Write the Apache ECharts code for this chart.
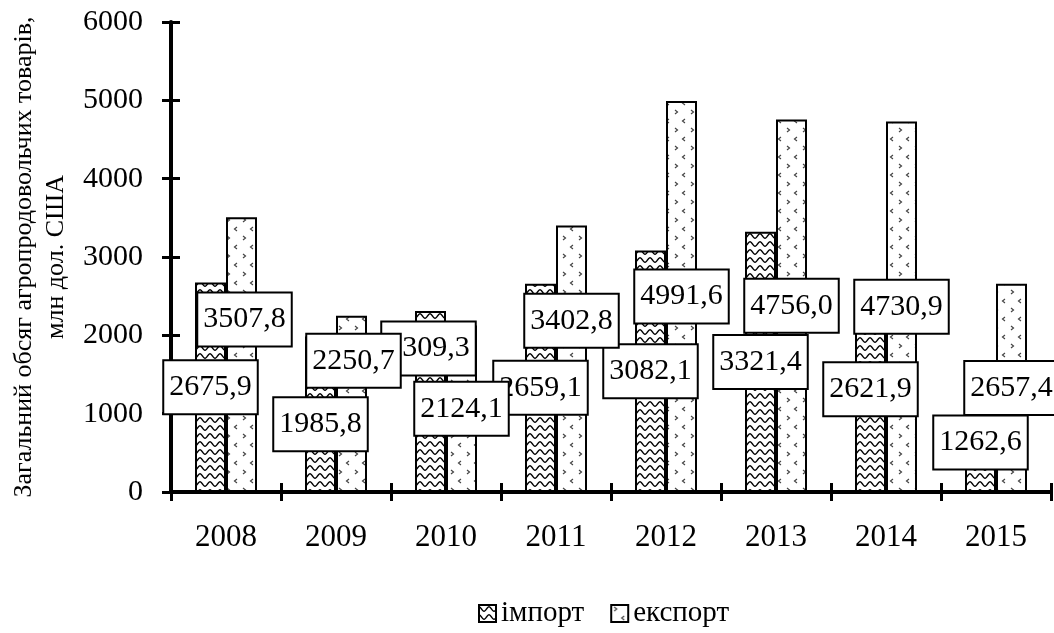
<!DOCTYPE html>
<html><head><meta charset="utf-8">
<script src="https://cdn.jsdelivr.net/npm/echarts@6/dist/echarts.min.js"></script>
<style>html,body{margin:0;padding:0;background:#fff}#c{width:1054px;height:633px}</style>
</head><body><div id="c"></div>
<script>
var years = ['2008','2009','2010','2011','2012','2013','2014','2015'];
var importVals = [2675.9, 1985.8, 2309.3, 2659.1, 3082.1, 3321.4, 2621.9, 1262.6];
var exportVals = [3507.8, 2250.7, 2124.1, 3402.8, 4991.6, 4756.0, 4730.9, 2657.4];
var seriesNames = ['імпорт', 'експорт'];
var yAxisName = 'Загальний обсяг агропродовольчих товарів,\nмлн дол. США';
// label offsets (px) from bar centre, as placed in the original
var importLabelOffsets = [[0,0],[0,10],[-2,-53],[0,0],[0,0],[0,0],[0,0],[0,0]];
var exportLabelOffsets = [[3,-35],[2,-43],[0,0],[0,-38],[0,0],[0,0],[0,0],[0,0]];

var FONT = 'Liberation Serif';

function wavePattern(){
  var c = document.createElement('canvas'); c.width = 10; c.height = 8;
  var g = c.getContext('2d'); g.fillStyle = '#fff'; g.fillRect(0,0,10,8);
  g.strokeStyle = '#000'; g.lineWidth = 1.4; g.beginPath();
  for (var x = 0; x <= 10; x += 0.5) {
    var y = 4 - 2.2 * Math.cos(2 * Math.PI * x / 10);
    if (x === 0) g.moveTo(x, y); else g.lineTo(x, y);
  }
  g.stroke();
  return c;
}
function dotPattern(){
  var c = document.createElement('canvas'); c.width = 16; c.height = 18;
  var g = c.getContext('2d'); g.fillStyle = '#fff'; g.fillRect(0,0,16,18);
  g.strokeStyle = '#444'; g.lineWidth = 1.2;
  g.beginPath(); g.moveTo(3,2); g.lineTo(5.5,4); g.lineTo(3,6); g.stroke();
  g.beginPath(); g.moveTo(13,11); g.lineTo(10.5,13); g.lineTo(13,15); g.stroke();
  return c;
}
function fmt(p){ return p.value.toFixed(1).replace('.', ','); }
var labelBase = {
  show: true, position: 'inside', formatter: fmt, color: '#000',
  fontFamily: FONT, fontSize: 30, lineHeight: 30,
  backgroundColor: '#fff', borderColor: '#000', borderWidth: 2, padding: [11, 5]
};
function mk(vals, offs){
  return vals.map(function(v, i){ return { value: v, label: { offset: offs[i] } }; });
}

var chart = echarts.init(document.getElementById('c'), null, {renderer: 'canvas'});
chart.setOption({
  animation: false,
  backgroundColor: '#fff',
  grid: { left: 171, right: 3, top: 22, bottom: 141, containLabel: false, outerBoundsMode: 'none' },
  legend: {
    left: 473, top: 594, itemWidth: 17, itemHeight: 17, itemGap: 26, itemTextGap: 9,
    icon: 'rect',
    itemStyle: { borderColor: '#000', borderWidth: 2 },
    textStyle: { fontFamily: FONT, fontSize: 29, color: '#000' },
    data: seriesNames
  },
  xAxis: [{
    type: 'category', data: years,
    axisLine: { lineStyle: { color: '#000', width: 4 } },
    axisTick: { show: true, length: 9, lineStyle: { color: '#000', width: 3 } },
    axisLabel: { color: '#000', fontFamily: FONT, fontSize: 31, margin: 30 }
  }, {
    type: 'category', data: years, position: 'bottom',
    axisLine: { show: false }, axisLabel: { show: false },
    axisTick: { show: true, inside: true, length: 9, lineStyle: { color: '#000', width: 3 } }
  }],
  yAxis: [{
    type: 'value', min: 0, max: 6000, interval: 1000,
    name: yAxisName, nameLocation: 'middle', nameRotate: 90, nameGap: 98,
    nameTextStyle: { fontFamily: FONT, fontSize: 26, lineHeight: 32, color: '#000', align: 'center' },
    axisLine: { show: true, lineStyle: { color: '#000', width: 4 } },
    axisTick: { show: true, length: 9, lineStyle: { color: '#000', width: 3 } },
    axisLabel: { color: '#000', fontFamily: FONT, fontSize: 30, margin: 28, formatter: function(v){ return String(v); } },
    splitLine: { show: false }
  }, {
    type: 'value', min: 0, max: 6000, interval: 1000, position: 'left',
    axisLine: { show: false }, axisLabel: { show: false }, splitLine: { show: false },
    axisTick: { show: true, inside: true, length: 9, lineStyle: { color: '#000', width: 3 } }
  }],
  series: [{
    name: seriesNames[0], type: 'bar', xAxisIndex: 0, yAxisIndex: 0,
    barWidth: 31, barGap: '0%',
    itemStyle: { color: { image: wavePattern(), repeat: 'repeat' }, borderColor: '#000', borderWidth: 2 },
    label: labelBase,
    data: mk(importVals, importLabelOffsets)
  }, {
    name: seriesNames[1], type: 'bar', xAxisIndex: 0, yAxisIndex: 0,
    barWidth: 31, barGap: '0%',
    itemStyle: { color: { image: dotPattern(), repeat: 'repeat' }, borderColor: '#000', borderWidth: 2 },
    label: labelBase,
    data: mk(exportVals, exportLabelOffsets)
  }]
});
</script></body></html>
